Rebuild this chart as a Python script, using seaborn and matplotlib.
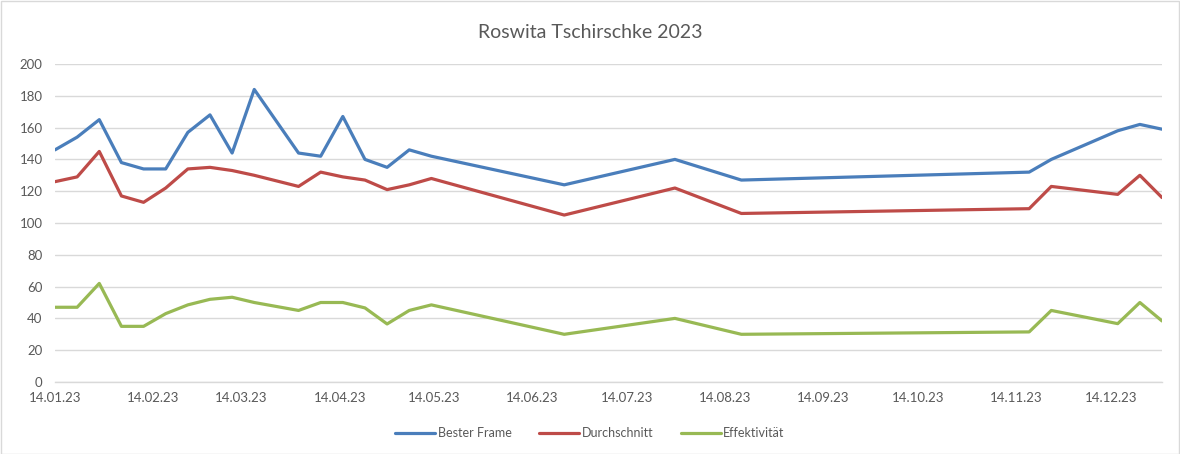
import pandas as pd
import numpy as np
import matplotlib.pyplot as plt
import matplotlib.dates as mdates
import seaborn as sns
from matplotlib.patches import Rectangle

# weekly sessions (Saturdays)
dates = ['2023-01-14', '2023-01-21', '2023-01-28', '2023-02-04', '2023-02-11',
         '2023-02-18', '2023-02-25', '2023-03-04', '2023-03-11', '2023-03-18',
         '2023-04-01', '2023-04-08', '2023-04-15', '2023-04-22', '2023-04-29',
         '2023-05-06', '2023-05-13', '2023-06-24', '2023-07-29', '2023-08-19',
         '2023-11-18', '2023-11-25', '2023-12-16', '2023-12-23', '2023-12-30']

bester_frame = [146, 154, 165, 138, 134, 134, 157, 168, 144, 184,
                144, 142, 167, 140, 135, 146, 142, 124, 140, 127,
                132, 140, 158, 162, 159]
durchschnitt = [126, 129, 145, 117, 113, 122, 134, 135, 133, 130,
                123, 132, 129, 127, 121, 124, 128, 105, 122, 106,
                109, 123, 118, 130, 116]
effektivitaet = [47, 47, 62, 35, 35, 43, 48.5, 52, 53.3, 50,
                 45, 50, 50, 46.6, 36.5, 45, 48.5, 30, 40, 30,
                 31.5, 45, 36.7, 50, 38.4]

series_names = ['Bester Frame', 'Durchschnitt', 'Effektivität']
colors = ['#4A7EBB', '#BE4B48', '#98B954']

sns.set_style('white')
plt.rcParams['font.family'] = ['Lato', 'DejaVu Sans']

# long format for seaborn
df = pd.DataFrame({
    'Datum': pd.to_datetime(dates),
    'Bester Frame': bester_frame,
    'Durchschnitt': durchschnitt,
    'Effektivität': effektivitaet,
})
df_long = df.melt(id_vars='Datum', var_name='Serie', value_name='Wert')

fig = plt.figure(figsize=(11.8, 4.54), dpi=100)
ax = fig.add_axes([55 / 1180, 1 - 382 / 454, (1162 - 55) / 1180, (382 - 64) / 454])

sns.lineplot(data=df_long, x='Datum', y='Wert', hue='Serie', hue_order=series_names,
             palette=colors, linewidth=2.3, ax=ax, legend=False)

# axes styling like Excel
ax.set_ylim(0, 200)
ax.set_yticks(range(0, 201, 20))
ax.set_xlim(pd.Timestamp('2023-01-14'), pd.Timestamp('2023-12-30'))
month_ticks = pd.date_range('2023-01-01', '2023-12-01', freq='MS') + pd.Timedelta(days=13)
ax.set_xticks(month_ticks)
ax.xaxis.set_major_formatter(mdates.DateFormatter('%d.%m.%y'))
ax.grid(axis='y', color='#D9D9D9', linewidth=1)
ax.set_axisbelow(True)
for s in ['top', 'right', 'left']:
    ax.spines[s].set_visible(False)
ax.spines['bottom'].set_color('#D9D9D9')
ax.spines['bottom'].set_linewidth(1)
ax.tick_params(axis='x', length=5, color='#D9D9D9', labelsize=9.5, labelcolor='#595959', pad=2)
ax.tick_params(axis='y', length=0, labelsize=9.5, labelcolor='#595959', pad=9)
ax.set_xlabel('')
ax.set_ylabel('')

fig.text(0.5, 1 - 32 / 454, 'Roswita Tschirschke 2023', ha='center', va='center',
         fontsize=14, color='#595959')

# legend at the bottom
handles = [plt.Line2D([], [], color=c, linewidth=2.3) for c in colors]
fig.legend(handles, series_names, loc='center', bbox_to_anchor=(0.5, 1 - 433 / 454),
           ncol=3, frameon=False, fontsize=9, handlelength=3.2, handletextpad=0.2,
           columnspacing=2.2, labelcolor='#595959')

# chart border
fig.patches.append(Rectangle((0.5 / 1180, 0.5 / 454), 1 - 1.5 / 1180, 1 - 1.5 / 454,
                             transform=fig.transFigure, fill=False,
                             edgecolor='#D9D9D9', linewidth=1))

fig.savefig('out.png', dpi=100)
